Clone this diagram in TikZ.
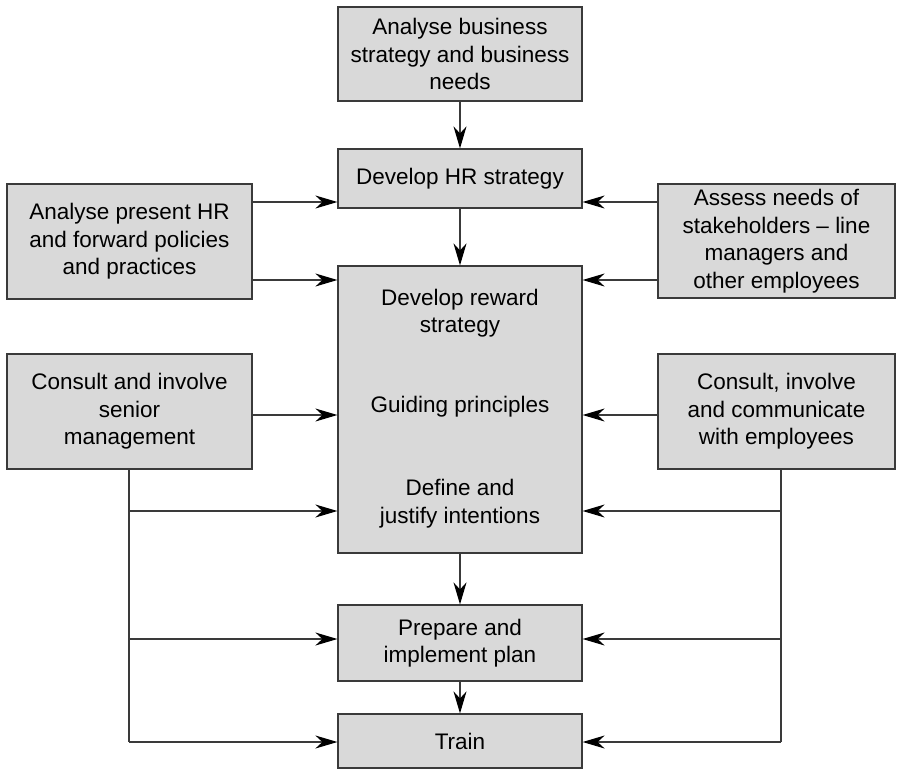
\documentclass[tikz,border=0pt]{standalone}
\usepackage{fontspec}
\setmainfont{Liberation Sans}
\usetikzlibrary{arrows.meta}
\definecolor{boxfill}{HTML}{D9D9D9}
\definecolor{edge}{HTML}{3A3A3A}
\begin{document}
\begin{tikzpicture}[x=1pt,y=-1pt,
  box/.style={draw=edge, line width=1.2pt, fill=boxfill, rectangle, inner sep=0pt,
    align=center, font=\fontsize{22.5}{27.5}\selectfont},
  label/.style={inner sep=0pt, align=center, font=\fontsize{22.5}{27.5}\selectfont},
  link/.style={draw=edge, line width=1.2pt},
  arr/.style={link, -{Stealth[length=22pt,width=13pt,inset=7pt,fill=black,color=black]}}]
\useasboundingbox (0,0) rectangle (899,769);

% central column
\node[box, minimum width=244pt, minimum height=94pt] (need) at (460,54)
  {Analyse business\\strategy and business\\needs};
\node[box, minimum width=244pt, minimum height=59pt] (hr) at (460,178.5)
  {Develop HR strategy};
\node[box, minimum width=244pt, minimum height=287pt] (reward) at (460,409.5) {};
\node[label] (rw1) at (460,313) {Develop reward\\strategy};
\node[label] (rw2) at (460,407) {Guiding principles};
\node[label] (rw3) at (460,503.5) {Define and\\justify intentions};
\node[box, minimum width=244pt, minimum height=76pt] (plan) at (460,643)
  {Prepare and\\implement plan};
\node[box, minimum width=244pt, minimum height=54pt] (train) at (460,741)
  {Train};

% side boxes
\node[box, minimum width=245pt, minimum height=115pt] (present) at (129.5,241.5)
  {Analyse present HR\\and forward policies\\and practices};
\node[box, minimum width=237pt, minimum height=114pt] (stake) at (776.5,241)
  {Assess needs of\\stakeholders -- line\\managers and\\other employees};
\node[box, minimum width=245pt, minimum height=115pt] (senior) at (129.5,411.5)
  {Consult and involve\\senior\\management};
\node[box, minimum width=237pt, minimum height=115pt] (staff) at (776.5,411.5)
  {Consult, involve\\and communicate\\with employees};

% main flow
\draw[arr] (need) -- (hr);
\draw[arr] (hr) -- (reward);
\draw[arr] (reward) -- (plan);
\draw[arr] (plan) -- (train);

% inputs from the side boxes
\draw[arr] (present.east |- 0,202) -- (hr.west |- 0,202);
\draw[arr] (present.east |- 0,280) -- (reward.west |- 0,280);
\draw[arr] (stake.west |- 0,202) -- (hr.east |- 0,202);
\draw[arr] (stake.west |- 0,280) -- (reward.east |- 0,280);
\draw[arr] (senior.east |- 0,415) -- (reward.west |- 0,415);
\draw[arr] (staff.west |- 0,415) -- (reward.east |- 0,415);

% left distribution line
\coordinate (lb) at (129,742);
\coordinate (rb) at (781,742);
\draw[link] (senior.south -| lb) -- (lb);
\draw[arr] (129,511) -- (reward.west |- 0,511);
\draw[arr] (129,639) -- (plan.west |- 0,639);
\draw[arr] (lb) -- (train.west |- lb);

% right distribution line
\draw[link] (staff.south -| rb) -- (rb);
\draw[arr] (781,511) -- (reward.east |- 0,511);
\draw[arr] (781,639) -- (plan.east |- 0,639);
\draw[arr] (rb) -- (train.east |- rb);
\end{tikzpicture}
\end{document}
